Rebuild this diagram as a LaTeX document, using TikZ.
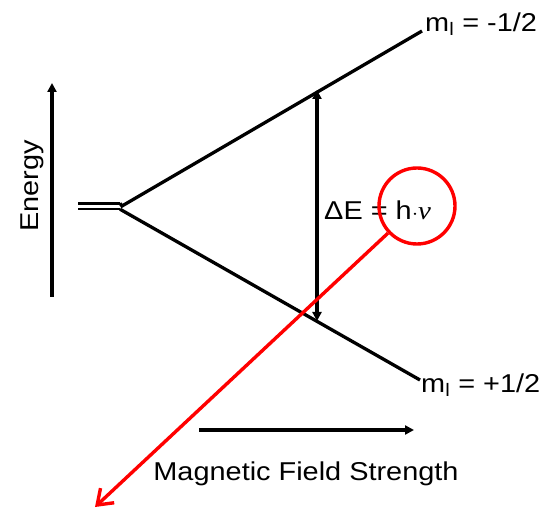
\documentclass[tikz,border=0pt]{standalone}
\usepackage{fontspec}
\setmainfont{Liberation Sans}
\newfontfamily\serifit{Liberation Serif}
\usetikzlibrary{arrows.meta}
\newcommand{\wtxt}[1]{\scalebox{1.12}[1]{#1}}
\tikzset{
  lbl/.style={inner sep=0pt, font=\fontsize{25.8}{30}\selectfont},
  lvl/.style={line width=3.3pt, black},
  axis/.style={line width=3.3pt, -{Triangle[length=9pt,width=9pt]}},
  hl/.style={draw=red, line width=3.4pt},
}
\begin{document}
\begin{tikzpicture}[x=1pt,y=-1pt]
\useasboundingbox (0,0) rectangle (546,510);
% degenerate level (double line)
\coordinate (d1) at (78,203.3);
\coordinate (d2) at (78,209.2);
\coordinate (s1) at (120,203.3);
\coordinate (s2) at (120,209.2);
\coordinate (split) at (122,206);
\coordinate (upend) at (422,31);
\coordinate (loend) at (420,380);
\draw[line width=2.6pt] (d1) -- (s1);
\draw[line width=2.6pt] (d2) -- (s2);
\draw[lvl] (s1) -- (split) -- (upend);
\draw[lvl] (s2) -- (loend);
% labels
\node[lbl, anchor=west] (mup) at (425,24) {\wtxt{m\textsubscript{l} = -1/2}};
\node[lbl, anchor=west] (mlo) at (421,385) {\wtxt{m\textsubscript{l} = +1/2}};
% transition arrow
\coordinate (tu) at (317,90);
\coordinate (tl) at (317,321);
\draw[line width=3.5pt, {Triangle[length=9pt,width=9pt]}-{Triangle[length=9pt,width=9pt]}] (tu) -- (tl);
\node[lbl, anchor=west] (de) at (324,210) {\wtxt{ΔE = h{\fontsize{20}{24}\selectfont$\cdot$}{\serifit\itshape ν}}};
% energy axis
\coordinate (e0) at (52,297);
\coordinate (e1) at (52,83);
\draw[axis] (e0) -- (e1);
\node[lbl, rotate=90] (en) at (32,186) {\wtxt{Energy}};
% field axis
\coordinate (b0) at (199,430);
\coordinate (b1) at (414,430);
\draw[axis] (b0) -- (b1);
\node[lbl] (mf) at (306,474) {\wtxt{Magnetic Field Strength}};
% highlight
\node[circle, hl, minimum size=76pt, inner sep=0pt] (circ) at (417,206) {};
\coordinate (tip) at (95,507);
\draw[hl, -{Straight Barb[length=14pt,width=20pt,line width=3.4pt]}] (circ) -- (tip);
\end{tikzpicture}
\end{document}
